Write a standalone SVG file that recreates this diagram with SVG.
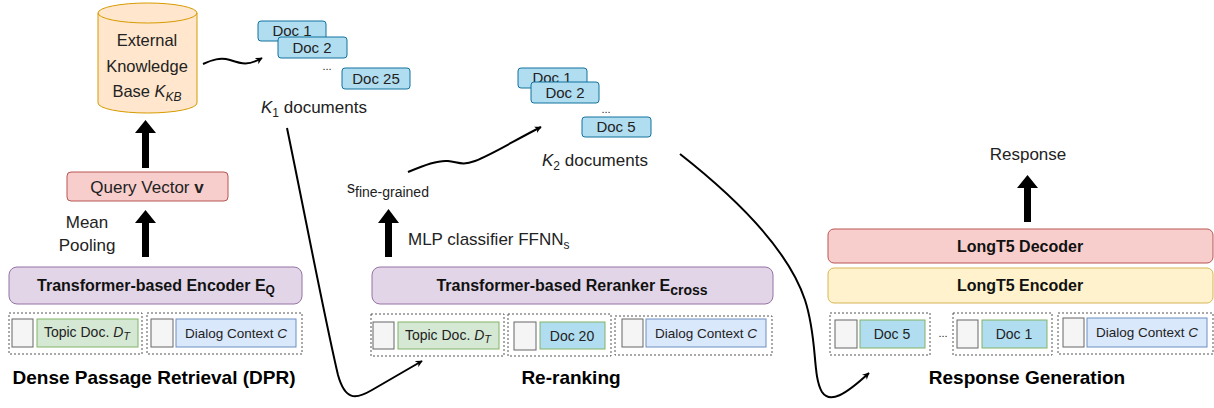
<svg xmlns="http://www.w3.org/2000/svg" width="1214" height="408" viewBox="0 0 1214 408">
<style>
text{font-family:"Liberation Sans",Arial,sans-serif;fill:#222}
.t17{font-size:17px}
.t16{font-size:16.5px}
.t15{font-size:15px}
.t14{font-size:14px}
.t13{font-size:13.5px}
.b16{font-size:16px;font-weight:bold;fill:#111}
.title{font-size:19px;font-weight:bold;fill:#000}
.doc{fill:#b1ddf0;stroke:#10739e;stroke-width:1}
.docg{fill:#b1ddf0;stroke:#82b366;stroke-width:1}
.gray{fill:#f5f5f5;stroke:#666;stroke-width:1}
.green{fill:#d5e8d4;stroke:#82b366;stroke-width:1}
.lblue{fill:#dae8fc;stroke:#6c8ebf;stroke-width:1}
.grp{fill:none;stroke:#555;stroke-width:1;stroke-dasharray:2 2}
.purple{fill:#e1d5e7;stroke:#9673a6;stroke-width:1}
.red{fill:#f8cecc;stroke:#b85450;stroke-width:1}
.yellow{fill:#fff2cc;stroke:#d6b656;stroke-width:1}
.conn{fill:none;stroke:#000;stroke-width:2}
.thick{fill:#000}
.mid{text-anchor:middle}
</style>
<defs>
<marker id="ah" viewBox="0 0 10 10" refX="9" refY="5" markerWidth="7" markerHeight="7" orient="auto" markerUnits="userSpaceOnUse">
<path d="M0,0 L10,5 L0,10 L3,5 z" fill="#000"/>
</marker>
</defs>

<!-- DPR section -->
<g id="kb">
<path d="M98,13 A49.5,10 0 0 1 197,13 L197,103 A49.5,10 0 0 1 98,103 Z" fill="#ffe6cc" stroke="#d79b00" stroke-width="1"/>
<path d="M98,13 A49.5,10 0 0 0 197,13" fill="none" stroke="#d79b00" stroke-width="1"/>
<text class="t16 mid" x="147" y="46">External</text>
<text class="t16 mid" x="147" y="72">Knowledge</text>
<text class="t16 mid" x="147" y="97">Base <tspan font-style="italic">K</tspan><tspan font-style="italic" font-size="12" dy="4">KB</tspan></text>
</g>

<g id="query">
<rect class="red" x="67" y="172" width="161" height="29" rx="4"/>
<text class="t17 mid" x="147" y="193">Query Vector <tspan font-weight="bold">v</tspan></text>
</g>

<g id="meanpool">
<text class="t17 mid" x="87" y="228">Mean</text>
<text class="t17 mid" x="87" y="251">Pooling</text>
</g>

<g id="encq">
<rect class="purple" x="9" y="267" width="293" height="37" rx="8"/>
<text class="b16 mid" x="156" y="291">Transformer-based Encoder E<tspan font-size="12" dy="3">Q</tspan></text>
</g>

<g id="dpr-in1">
<rect class="grp" x="9" y="313" width="133" height="41"/>
<rect class="gray" x="12" y="319" width="21" height="28"/>
<rect class="green" x="37" y="319" width="101" height="28"/>
<text class="t14 mid" x="87" y="337">Topic Doc. <tspan font-style="italic">D</tspan><tspan font-style="italic" font-size="11" dy="3">T</tspan></text>
</g>
<g id="dpr-in2">
<rect class="grp" x="147" y="313" width="155" height="41"/>
<rect class="gray" x="151" y="319" width="22" height="28"/>
<rect class="lblue" x="176" y="319" width="120" height="28"/>
<text class="t13 mid" x="236" y="338">Dialog Context <tspan font-style="italic">C</tspan></text>
</g>
<text class="title mid" x="154" y="384">Dense Passage Retrieval (DPR)</text>

<!-- K1 documents -->
<g id="k1docs">
<rect class="doc" x="258" y="21" width="68" height="20" rx="3"/>
<text class="t15 mid" x="292" y="36">Doc 1</text>
<rect class="doc" x="278" y="37" width="69" height="21" rx="3"/>
<text class="t15 mid" x="312" y="53">Doc 2</text>
<text class="mid" font-size="11" x="327" y="70">...</text>
<rect class="doc" x="342" y="68" width="68" height="21" rx="3"/>
<text class="t15 mid" x="376" y="84">Doc 25</text>
<text class="t17" x="261" y="113"><tspan font-style="italic">K</tspan><tspan font-size="12" dy="4">1</tspan><tspan dy="-4"> documents</tspan></text>
</g>

<!-- Re-ranking -->
<g id="sfine">
<text font-size="16" x="347" y="193">s<tspan font-size="14" dy="4">fine-grained</tspan></text>
</g>
<g id="mlp">
<text class="t17" x="408" y="245">MLP classifier FFNN<tspan font-size="12" dy="4">s</tspan></text>
</g>
<g id="rerank">
<rect class="purple" x="372" y="267" width="401" height="37" rx="8"/>
<text class="b16 mid" x="572" y="291">Transformer-based Reranker E<tspan font-size="14" dy="4">cross</tspan></text>
</g>
<g id="rr-in1">
<rect class="grp" x="371" y="314" width="133" height="42"/>
<rect class="gray" x="373" y="322" width="21" height="27"/>
<rect class="green" x="398" y="322" width="101" height="27"/>
<text class="t14 mid" x="448" y="340">Topic Doc. <tspan font-style="italic">D</tspan><tspan font-style="italic" font-size="11" dy="3">T</tspan></text>
</g>
<g id="rr-in2">
<rect class="grp" x="508" y="314" width="103" height="42"/>
<rect class="gray" x="514" y="322" width="22" height="28"/>
<rect class="docg" x="540" y="322" width="65" height="27"/>
<text class="t14 mid" x="572" y="341">Doc 20</text>
</g>
<g id="rr-in3">
<rect class="grp" x="615" y="316" width="157" height="39"/>
<rect class="gray" x="622" y="319" width="21" height="28"/>
<rect class="lblue" x="646" y="319" width="120" height="28"/>
<text class="t13 mid" x="706" y="338">Dialog Context <tspan font-style="italic">C</tspan></text>
</g>
<text class="title mid" x="571" y="384">Re-ranking</text>

<!-- K2 documents -->
<g id="k2docs">
<rect class="doc" x="518" y="68" width="69" height="20" rx="3"/>
<text class="t15 mid" x="552" y="83">Doc 1</text>
<rect class="doc" x="531" y="82" width="68" height="21" rx="3"/>
<text class="t15 mid" x="565" y="98">Doc 2</text>
<text class="mid" font-size="11" x="606" y="113">...</text>
<rect class="doc" x="582" y="117" width="69" height="20" rx="3"/>
<text class="t15 mid" x="616" y="132">Doc 5</text>
<text class="t17" x="542" y="166"><tspan font-style="italic">K</tspan><tspan font-size="12" dy="4">2</tspan><tspan dy="-4"> documents</tspan></text>
</g>

<!-- Response Generation -->
<g id="response">
<text class="t17 mid" x="1028" y="160">Response</text>
</g>
<g id="dec">
<rect class="red" x="828" y="229" width="385" height="34" rx="6"/>
<text class="b16 mid" x="1020" y="252">LongT5 Decoder</text>
</g>
<g id="enc">
<rect class="yellow" x="828" y="268" width="385" height="35" rx="6"/>
<text class="b16 mid" x="1020" y="291">LongT5 Encoder</text>
</g>
<g id="rg-in1">
<rect class="grp" x="830" y="313" width="100" height="42"/>
<rect class="gray" x="835" y="320" width="22" height="28"/>
<rect class="docg" x="860" y="320" width="65" height="28"/>
<text class="t14 mid" x="892" y="339">Doc 5</text>
</g>
<text class="mid" font-size="11" x="943" y="337">...</text>
<g id="rg-in2">
<rect class="grp" x="953" y="313" width="99" height="42"/>
<rect class="gray" x="957" y="320" width="21" height="28"/>
<rect class="docg" x="982" y="320" width="65" height="28"/>
<text class="t14 mid" x="1014" y="339">Doc 1</text>
</g>
<g id="rg-in3">
<rect class="grp" x="1058" y="313" width="155" height="41"/>
<rect class="gray" x="1063" y="318" width="21" height="29"/>
<rect class="lblue" x="1087" y="318" width="120" height="29"/>
<text class="t13 mid" x="1147" y="337">Dialog Context <tspan font-style="italic">C</tspan></text>
</g>
<text class="title mid" x="1027" y="384">Response Generation</text>

<!-- connectors -->
<g id="connectors">
<polygon class="thick" points="142,168 149,168 149,133 156,133 145.5,120 135,133 142,133"/>
<polygon class="thick" points="142,257 149,257 149,223 156,223 145.5,210 135,223 142,223"/>
<polygon class="thick" points="385,257 392,257 392,223 399,223 388.5,209 378,223 385,223"/>
<polygon class="thick" points="1024,222 1031,222 1031,188 1038,188 1027.5,175 1017,188 1024,188"/>
<path class="conn" marker-end="url(#ah)" d="M203,64 C212,60 220,57 230,60 C242,64 248,66 262,58"/>
<path class="conn" marker-end="url(#ah)" d="M408,172 C425,165 438,160 448,161 C458,162 462,166 475,161 C495,153 515,140 541,127"/>
<path class="conn" marker-end="url(#ah)" d="M287,128 C305,215 325,320 338,375 C345,400 355,400 372,390 L422,361"/>
<path class="conn" marker-end="url(#ah)" d="M680,154 C745,205 790,255 805,300 C818,340 812,375 822,392 C830,404 845,395 869,373"/>
</g>
</svg>
